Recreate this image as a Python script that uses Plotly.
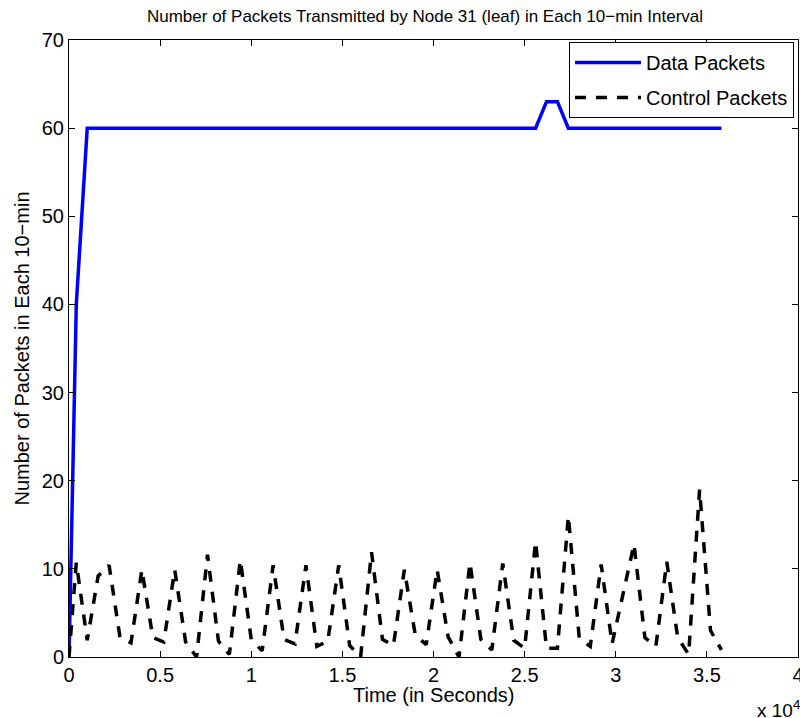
import plotly.graph_objects as go

# Sampling instants (seconds): start, then every 10-min interval
time_s = [0, 400, 1000, 1600, 2200, 2800, 3400, 4000, 4600, 5200, 5800,
          6400, 7000, 7600, 8200, 8800, 9400, 10000, 10600, 11200, 11800,
          12400, 13000, 13600, 14200, 14800, 15400, 16000, 16600, 17200, 17800,
          18400, 19000, 19600, 20200, 20800, 21400, 22000, 22600, 23200, 23800,
          24400, 25000, 25600, 26200, 26800, 27400, 28000, 28600, 29200, 29800,
          30400, 31000, 31600, 32200, 32800, 33400, 34000, 34600, 35200, 35800]

data_packets = [0, 40, 60, 60, 60, 60, 60, 60, 60, 60, 60,
                60, 60, 60, 60, 60, 60, 60, 60, 60, 60,
                60, 60, 60, 60, 60, 60, 60, 60, 60, 60,
                60, 60, 60, 60, 60, 60, 60, 60, 60, 60,
                60, 60, 60, 63, 63, 60, 60, 60, 60, 60,
                60, 60, 60, 60, 60, 60, 60, 60, 60, 60]

control_packets = [0, 10.7, 1.9, 9.2, 10.4, 2.2, 1.6, 9.9, 2.2, 1.7, 9.9,
                   1.7, 0, 11.6, 1.8, 0.3, 11.0, 2.0, 0.7, 10.4, 2.0,
                   1.5, 10.4, 1.2, 1.8, 10.4, 1.3, 0, 11.9, 2.0, 1.3,
                   9.9, 2.5, 1.4, 9.9, 2.3, 0, 10.7, 2.0, 0.8, 10.6,
                   1.9, 1.0, 13.1, 1.0, 1.0, 16.0, 2.1, 1.2, 10.5, 1.5,
                   7.2, 12.8, 2.2, 1.2, 10.8, 2.2, 0.3, 19.0, 3.0, 0.8]

x_tick_vals = [0, 5000, 10000, 15000, 20000, 25000, 30000, 35000, 40000]
x_tick_text = ["0", "0.5", "1", "1.5", "2", "2.5", "3", "3.5", "4"]
y_tick_vals = [0, 10, 20, 30, 40, 50, 60, 70]

FONT = "Liberation Sans, Arial, Helvetica, sans-serif"
TXT = 20

# plot-area geometry in pixels
L, R, T, B = 69, 2, 40, 61
W, H = 800, 718
PW, PH = W - L - R, H - T - B

fig = go.Figure()
fig.add_trace(go.Scatter(
    x=time_s, y=data_packets, mode="lines", name="Data Packets",
    line=dict(color="#0000ff", width=3.5), legendgroup="a",
))
fig.add_trace(go.Scatter(
    x=time_s, y=control_packets, mode="lines", name="Control Packets",
    line=dict(color="#000000", width=3.5, dash="11px,10px"), legendgroup="b",
))

axis_common = dict(
    showline=True, linecolor="black", linewidth=1, mirror="ticks",
    ticks="inside", ticklen=6, tickcolor="black", tickwidth=1,
    showgrid=False, zeroline=False, ticklabeloverflow="allow",
    automargin=False,
    tickfont=dict(family=FONT, size=TXT, color="black"),
)

fig.update_xaxes(
    range=[0, 40000], tickvals=x_tick_vals, ticktext=x_tick_text,
    **axis_common,
)
fig.update_yaxes(
    range=[0, 70], tickvals=y_tick_vals,
    title=dict(text="Number of Packets in Each 10\u2212min", font=dict(family=FONT, size=TXT, color="black"), standoff=6),
    **axis_common,
)

# x-axis label, set just under the tick labels
fig.add_annotation(
    text="Time (in Seconds)", xref="paper", yref="paper",
    x=0.5, y=-(695 - (H - B)) / PH, xanchor="center", yanchor="middle",
    showarrow=False, font=dict(family=FONT, size=TXT, color="black"),
)

# axis exponent label under the right end of the x axis
fig.add_annotation(
    text="x 10<sup>4</sup>", xref="paper", yref="paper",
    x=(755 - L) / PW, y=-52 / PH, xanchor="left", yanchor="middle",
    showarrow=False, font=dict(family=FONT, size=19, color="black"),
)

fig.update_layout(
    width=W, height=H,
    margin=dict(l=L, r=R, t=T, b=B, autoexpand=False),
    paper_bgcolor="white", plot_bgcolor="white",
    title=dict(
        text="Number of Packets Transmitted by Node 31 (leaf) in Each 10\u2212min Interval",
        font=dict(family=FONT, size=17, color="black"),
        x=(425 - L) / PW, xref="paper", y=1 - 16 / H, yref="container",
        xanchor="center", yanchor="middle",
    ),
    legend=dict(
        x=(794 - L) / PW, y=(H - B - 42) / PH, xanchor="right", yanchor="top",
        bgcolor="white", bordercolor="black", borderwidth=1,
        font=dict(family=FONT, size=TXT, color="black"),
        itemwidth=66, tracegroupgap=6,
    ),
    showlegend=True,
)

fig.write_html("out.html")
